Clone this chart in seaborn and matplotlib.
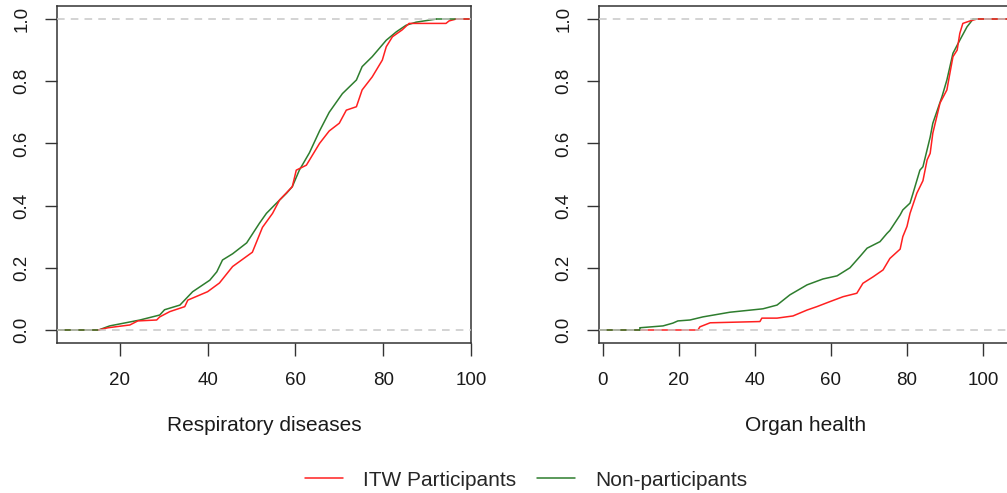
import numpy as np
import pandas as pd
import seaborn as sns
import matplotlib.pyplot as plt

# ECDF curves: x knots and cumulative proportion
resp_itw_x = [15.2, 17.3, 22.3, 24.1, 28.4, 29.1, 31.4, 34.8, 35.5, 40.0, 42.7, 45.7, 50.2, 52.5,
              54.8, 56.4, 59.3, 60.2, 62.5, 65.5, 67.7, 70.0, 71.6, 73.9, 75.2, 77.5, 79.8,
              80.7, 82.1, 84.3, 85.9, 94.3, 95.0, 96.6]
resp_itw_y = [0.0, 0.007, 0.016, 0.029, 0.032, 0.042, 0.059, 0.075, 0.096, 0.123, 0.151, 0.204,
              0.25, 0.33, 0.375, 0.418, 0.461, 0.514, 0.53, 0.60, 0.64, 0.665, 0.707, 0.718,
              0.772, 0.814, 0.868, 0.911, 0.943, 0.965, 0.986, 0.986, 0.994, 1.0]
resp_non_x = [15.2, 17.7, 24.6, 29.1, 30.2, 33.7, 36.6, 40.5, 42.1, 43.4, 45.7, 48.9, 51.8, 53.4,
              55.7, 58.0, 59.3, 60.9, 63.2, 65.5, 67.7, 70.7, 73.9, 75.2, 77.5, 80.7, 83.0,
              85.2, 87.5, 92.1]
resp_non_y = [0.0, 0.013, 0.032, 0.048, 0.065, 0.08, 0.123, 0.16, 0.187, 0.225, 0.245, 0.28,
              0.343, 0.375, 0.408, 0.44, 0.461, 0.514, 0.57, 0.64, 0.70, 0.76, 0.804, 0.847,
              0.879, 0.932, 0.959, 0.98, 0.99, 1.0]

organ_itw_x = [25.0, 25.5, 28.2, 41.3, 41.8, 45.8, 50.0, 53.7, 56.3, 59.7, 63.2, 66.8, 68.4,
               71.1, 73.7, 75.5, 78.2, 78.9, 80.0, 80.8, 82.6, 84.2, 85.3, 86.1, 86.8, 88.7,
               90.5, 91.3, 92.1, 93.2, 93.9, 94.7, 96.6, 98.4]
organ_itw_y = [0.0, 0.01, 0.023, 0.027, 0.038, 0.038, 0.045, 0.064, 0.075, 0.091, 0.107, 0.118,
               0.15, 0.171, 0.193, 0.23, 0.26, 0.30, 0.333, 0.375, 0.44, 0.48, 0.547, 0.568,
               0.633, 0.73, 0.772, 0.826, 0.879, 0.90, 0.954, 0.986, 0.994, 1.0]
organ_non_x = [9.7, 15.8, 18.4, 19.7, 22.9, 26.3, 33.4, 42.1, 45.8, 49.2, 53.7, 57.9, 61.6,
               65.0, 67.6, 69.5, 72.9, 74.7, 75.5, 78.2, 78.9, 80.8, 81.6, 83.4, 84.2, 86.1,
               86.8, 89.2, 90.5, 92.1, 93.9, 95.8, 97.4]
organ_non_y = [0.007, 0.013, 0.022, 0.029, 0.032, 0.042, 0.057, 0.068, 0.08, 0.113, 0.145,
               0.164, 0.174, 0.20, 0.236, 0.263, 0.284, 0.31, 0.32, 0.37, 0.386, 0.408, 0.44,
               0.514, 0.525, 0.62, 0.665, 0.75, 0.804, 0.89, 0.932, 0.975, 1.0]

groups = ["ITW Participants", "Non-participants"]
colors = {"ITW Participants": "#FF2020", "Non-participants": "#2E7D2E"}
panels = [
    ("Respiratory diseases", (5.7, 100.0), [20, 40, 60, 80, 100],
     {"ITW Participants": (resp_itw_x, resp_itw_y), "Non-participants": (resp_non_x, resp_non_y)}),
    ("Organ health", (-1.05, 107.9), [0, 20, 40, 60, 80, 100],
     {"ITW Participants": (organ_itw_x, organ_itw_y), "Non-participants": (organ_non_x, organ_non_y)}),
]

sns.set_style("ticks")
plt.rcParams["font.family"] = ["Liberation Sans", "DejaVu Sans"]
plt.rcParams["font.size"] = 13.5

fig = plt.figure(figsize=(10.07, 4.93), dpi=100)
axes = [fig.add_axes([57 / 1007, 150 / 493, 414 / 1007, 337 / 493]),
        fig.add_axes([599 / 1007, 150 / 493, 414 / 1007, 337 / 493])]

for ax, (label, xlim, xticks, curves) in zip(axes, panels):
    frames = []
    for g in groups:
        xs, ys = curves[g]
        frames.append(pd.DataFrame({"x": xs, "y": ys, "group": g}))
    df = pd.concat(frames, ignore_index=True)

    # left tails at 0: earliest-starting curve ends up on top
    order = sorted(groups, key=lambda g: -curves[g][0][0])
    for i, g in enumerate(order):
        xs, ys = curves[g]
        ax.plot([xlim[0], xs[0]], [0, 0], color=colors[g], lw=1.1, zorder=2 + i * 0.1)
        if ys[0] > 0:
            ax.plot([xs[0], xs[0]], [0, ys[0]], color=colors[g], lw=1.1, zorder=2 + i * 0.1)

    sns.lineplot(data=df, x="x", y="y", hue="group", hue_order=groups[::-1],
                 palette=colors, estimator=None, sort=False, lw=1.1, legend=False,
                 ax=ax, zorder=2.5)

    for g in groups[::-1]:
        xs, ys = curves[g]
        ax.plot([xs[-1], xlim[1]], [1, 1], color=colors[g], lw=1.1, zorder=2.5)

    ax.axhline(0, color="#C8C8C8", lw=1.1, ls=(0, (5, 4)), zorder=3)
    ax.axhline(1, color="#C8C8C8", lw=1.1, ls=(0, (5, 4)), zorder=3)

    ax.set_xlim(*xlim)
    ax.set_ylim(-0.042, 1.042)
    ax.set_xticks(xticks)
    ax.set_yticks([0, 0.2, 0.4, 0.6, 0.8, 1.0])
    ax.set_yticklabels(["0.0", "0.2", "0.4", "0.6", "0.8", "1.0"], rotation=90, va="center")
    ax.tick_params(axis="both", length=9, width=1, color="#333333", labelcolor="#1a1a1a",
                   labelsize=13.5)
    ax.tick_params(axis="x", pad=12)
    ax.tick_params(axis="y", pad=10)
    for s in ax.spines.values():
        s.set_color("#333333")
        s.set_linewidth(1.1)
    ax.set_xlabel(label, fontsize=15, color="#1a1a1a", labelpad=19)
    ax.set_ylabel("")

handles = [plt.Line2D([], [], color=colors[g], lw=1.1) for g in groups]
fig.legend(handles, groups, loc="center", bbox_to_anchor=(526 / 1007, 13 / 493), ncol=2,
           frameon=False, fontsize=15, handlelength=1.85, handletextpad=0.95, columnspacing=1.0)

fig.savefig("out.png", dpi=100)
